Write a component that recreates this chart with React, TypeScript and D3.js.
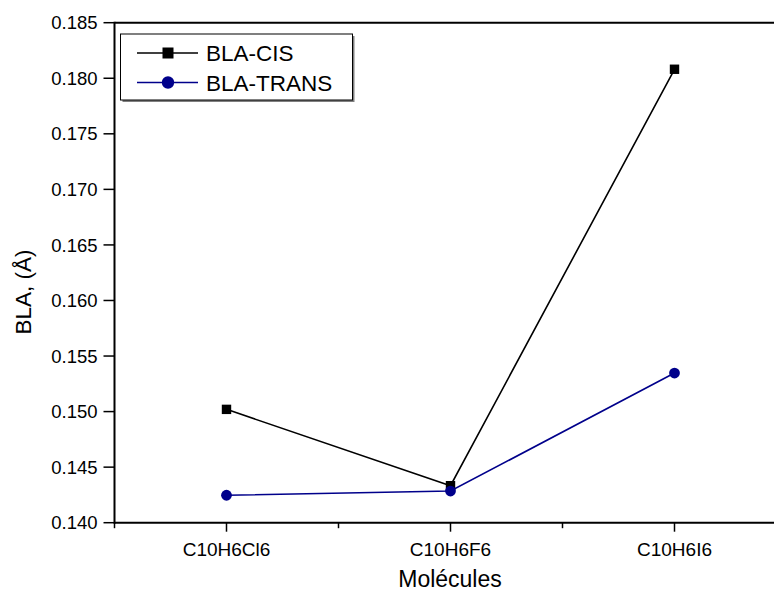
import React from "react";
import * as d3 from "d3";

const categories = ["C10H6Cl6", "C10H6F6", "C10H6I6"];
const cisValues = [0.1502, 0.14333, 0.18081];
const transValues = [0.14247, 0.14285, 0.15347];
const yTicks = [0.14, 0.145, 0.15, 0.155, 0.16, 0.165, 0.17, 0.175, 0.18, 0.185];
const seriesNames = ["BLA-CIS", "BLA-TRANS"];

const W = 774;
const H = 591;
const FONT = "Arial, 'Liberation Sans', Helvetica, sans-serif";

export default function App() {
  const x = d3.scaleLinear().domain([0.5, 3.5]).range([114.5, 786.5]);
  const y = d3.scaleLinear().domain([0.14, 0.185]).range([522.7, 22.7]);
  const left = x(0.5);
  const bottom = y(0.14);
  const top = y(0.185);

  const line = d3
    .line<number>()
    .x((_, i) => x(i + 1))
    .y((d) => y(d));

  const minorX = [0.5, 1.5, 2.5, 3.5];
  const blue = "#00008B";

  return (
    <svg
      width={W}
      height={H}
      style={{ position: "absolute", left: 0, top: 0, background: "#fff" }}
      fontFamily={FONT}
    >
      <rect x={0} y={0} width={W} height={H} fill="#fff" />
      {/* frame */}
      <line x1={left} x2={W} y1={top} y2={top} stroke="#000" strokeWidth={2} />
      <line x1={left} x2={W} y1={bottom} y2={bottom} stroke="#000" strokeWidth={2} />
      <line x1={left} x2={left} y1={top - 1} y2={bottom + 1} stroke="#000" strokeWidth={2} />

      {/* y ticks */}
      {yTicks.map((t) => (
        <g key={t}>
          <line x1={left - 11} x2={left} y1={y(t)} y2={y(t)} stroke="#000" strokeWidth={1.5} />
          <text
            x={left - 17}
            y={y(t)}
            dy="0.36em"
            textAnchor="end"
            fontSize={18.5}
            fill="#000"
          >
            {d3.format(".3f")(t)}
          </text>
        </g>
      ))}

      {/* x ticks */}
      {categories.map((c, i) => (
        <g key={c}>
          <line x1={x(i + 1)} x2={x(i + 1)} y1={bottom} y2={bottom + 9} stroke="#000" strokeWidth={1.5} />
          <text x={x(i + 1)} y={bottom + 33} textAnchor="middle" fontSize={19} fill="#000">
            {c}
          </text>
        </g>
      ))}
      {minorX.map((m) => (
        <line key={m} x1={x(m)} x2={x(m)} y1={bottom} y2={bottom + 5.5} stroke="#000" strokeWidth={1.5} />
      ))}

      {/* axis titles */}
      <text x={450} y={587} textAnchor="middle" fontSize={23} fill="#000">
        Molécules
      </text>
      <text
        transform={`translate(31,292) rotate(-90)`}
        textAnchor="middle"
        fontSize={22.5}
        fill="#000"
      >
        BLA, (Å)
      </text>

      {/* series */}
      <path d={line(cisValues) || ""} fill="none" stroke="#000" strokeWidth={1.6} />
      <path d={line(transValues) || ""} fill="none" stroke={blue} strokeWidth={1.6} />
      {cisValues.map((v, i) => (
        <rect key={"c" + i} x={x(i + 1) - 4.7} y={y(v) - 4.7} width={9.4} height={9.4} fill="#000" />
      ))}
      {transValues.map((v, i) => (
        <circle key={"t" + i} cx={x(i + 1)} cy={y(v)} r={5.4} fill={blue} />
      ))}

      {/* legend */}
      <rect x={122.5} y={36} width={232} height={66} fill="#808080" />
      <rect x={120.5} y={34} width={232} height={66} fill="#fff" stroke="#000" strokeWidth={1} />
      <line x1={137} x2={198} y1={53} y2={53} stroke="#000" strokeWidth={1.6} />
      <rect x={168 - 5.5} y={53 - 5.5} width={11} height={11} fill="#000" />
      <text x={206} y={53} dy="0.36em" fontSize={22.5} fill="#000">
        {seriesNames[0]}
      </text>
      <line x1={137} x2={198} y1={82.5} y2={82.5} stroke={blue} strokeWidth={1.6} />
      <circle cx={168} cy={82.5} r={6.2} fill={blue} />
      <text x={206} y={82.5} dy="0.36em" fontSize={22.5} fill="#000">
        {seriesNames[1]}
      </text>
    </svg>
  );
}
